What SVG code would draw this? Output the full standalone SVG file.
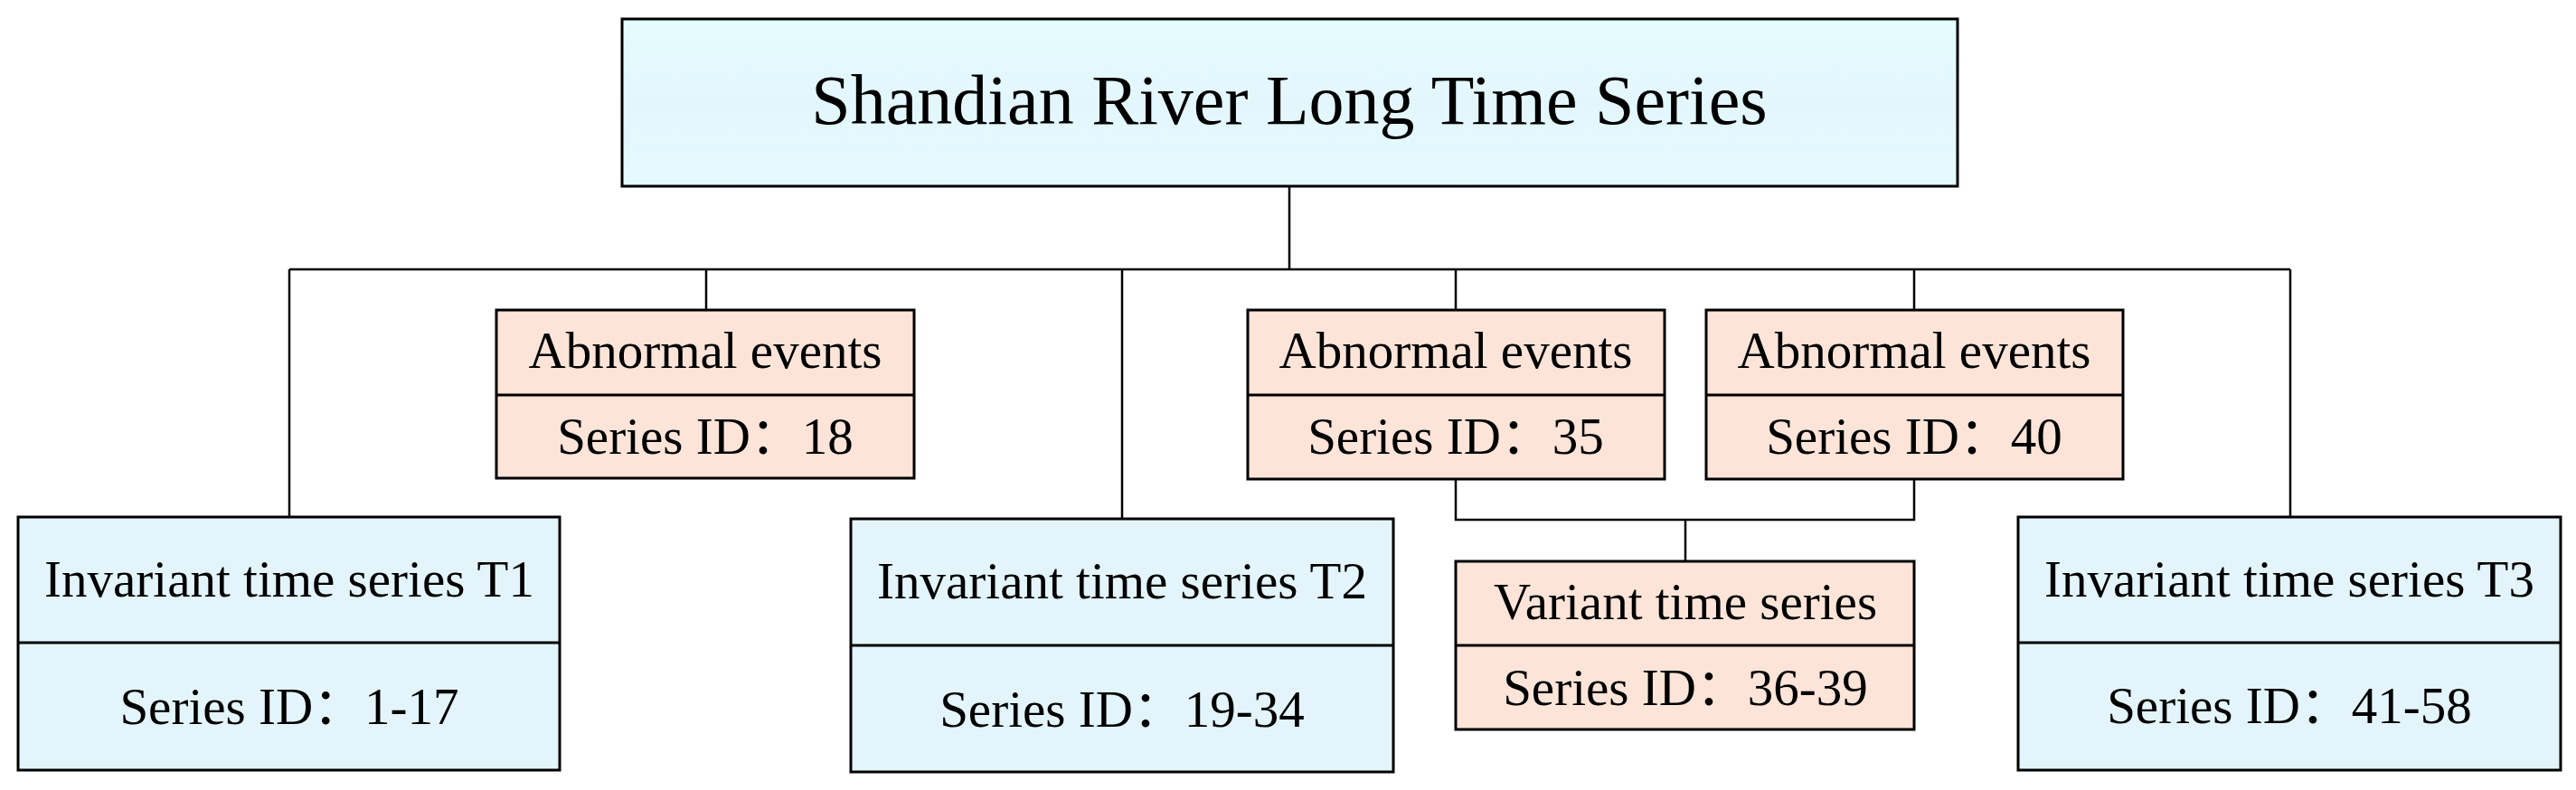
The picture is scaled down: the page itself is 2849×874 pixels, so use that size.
<svg xmlns="http://www.w3.org/2000/svg" width="2849" height="874" viewBox="0 0 2849 874">
<defs>
<linearGradient id="topfill" x1="0" y1="0" x2="0" y2="1">
<stop offset="0" stop-color="#E4FDFE"/>
<stop offset="0.5" stop-color="#E3F6FC"/>
<stop offset="1" stop-color="#E4FBFE"/>
</linearGradient>
</defs>
<style>
.box{stroke:#000;stroke-width:3}
.blue{fill:#E3F5FB}
.pink{fill:#FDE4D9}
.div{stroke:#000;stroke-width:3}
.conn{stroke:#000;stroke-width:2.5;fill:none}
text{font-family:"Liberation Serif","Noto Sans CJK SC",serif;fill:#000;text-anchor:middle}
.t{font-size:57px}
.big{font-size:78px}
</style>
<rect width="2849" height="874" fill="#fff"/>
<g id="connectors">
<path class="conn" d="M1426 206V298M320 298H2533M320 298V572M781 298V343M1241 298V574M1610 298V343M2117 298V343M2533 298V572"/>
<path class="conn" d="M1610 530V575H2117V530M1864 575V621"/>
</g>
<g id="root">
<rect class="box" x="688" y="21" width="1477" height="185" fill="url(#topfill)"/>
<text class="big" x="1426" y="137">Shandian River Long Time Series</text>
</g>
<g id="t1">
<rect class="box blue" x="20" y="572" width="599" height="280"/>
<line class="div" x1="20" y1="711" x2="619" y2="711"/>
<text class="t" x="320" y="660">Invariant time series T1</text>
<text class="t" x="320" y="801">Series ID：1-17</text>
</g>
<g id="a18">
<rect class="box pink" x="549" y="343" width="462" height="186"/>
<line class="div" x1="549" y1="437" x2="1011" y2="437"/>
<text class="t" x="780" y="407">Abnormal events</text>
<text class="t" x="780" y="502">Series ID：18</text>
</g>
<g id="t2">
<rect class="box blue" x="941" y="574" width="600" height="280"/>
<line class="div" x1="941" y1="714" x2="1541" y2="714"/>
<text class="t" x="1241" y="662">Invariant time series T2</text>
<text class="t" x="1241" y="804">Series ID：19-34</text>
</g>
<g id="a35">
<rect class="box pink" x="1380" y="343" width="461" height="187"/>
<line class="div" x1="1380" y1="437" x2="1841" y2="437"/>
<text class="t" x="1610" y="407">Abnormal events</text>
<text class="t" x="1610" y="502">Series ID：35</text>
</g>
<g id="a40">
<rect class="box pink" x="1887" y="343" width="461" height="187"/>
<line class="div" x1="1887" y1="437" x2="2348" y2="437"/>
<text class="t" x="2117" y="407">Abnormal events</text>
<text class="t" x="2117" y="502">Series ID：40</text>
</g>
<g id="variant">
<rect class="box pink" x="1610" y="621" width="507" height="186"/>
<line class="div" x1="1610" y1="714" x2="2117" y2="714"/>
<text class="t" x="1864" y="685">Variant time series</text>
<text class="t" x="1864" y="780">Series ID：36-39</text>
</g>
<g id="t3">
<rect class="box blue" x="2232" y="572" width="600" height="280"/>
<line class="div" x1="2232" y1="711" x2="2832" y2="711"/>
<text class="t" x="2532" y="660">Invariant time series T3</text>
<text class="t" x="2532" y="800">Series ID：41-58</text>
</g>
</svg>
